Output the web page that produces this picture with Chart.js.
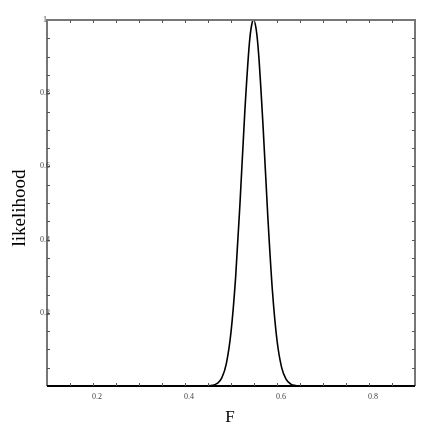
<!DOCTYPE html>
<html>
<head>
<meta charset="utf-8">
<script src="https://cdn.jsdelivr.net/npm/chart.js@4"></script>
<style>
  html, body { margin: 0; padding: 0; background: #fff; }
  #wrap { width: 436px; height: 436px; }
</style>
</head>
<body>
<div id="wrap"><canvas id="chart" width="436" height="436"></canvas></div>
<script>
// valores
const fValues = [0.10, 0.20, 0.30, 0.40, 0.44, 0.46, 0.47, 0.48, 0.49, 0.50, 0.51, 0.52, 0.53, 0.54, 0.545, 0.549,
                 0.555, 0.56, 0.57, 0.58, 0.59, 0.60, 0.61, 0.62, 0.63, 0.64, 0.65, 0.66, 0.70, 0.80, 0.90];
const likelihood = [0, 0, 0, 0, 0.0001, 0.002, 0.007, 0.022, 0.062, 0.147, 0.296, 0.510, 0.749, 0.937, 0.987, 1.0,
                    0.972, 0.908, 0.703, 0.464, 0.261, 0.125, 0.051, 0.018, 0.005, 0.0013, 0.0003, 0, 0, 0, 0];
const xTickLabels = [0.2, 0.4, 0.6, 0.8];
const yTickLabels = [0.2, 0.4, 0.6, 0.8, 1];

const points = fValues.map((f, i) => ({ x: f, y: likelihood[i] }));

// Ejes y marcas dibujados a mano (ticks hacia dentro)
const framePlugin = {
    id: 'frame',
    afterDraw(chart) {
        const ctx = chart.ctx;
        const a = chart.chartArea;
        const xs = chart.scales.x;
        const ys = chart.scales.y;
        ctx.save();

        // marco
        ctx.lineWidth = 2;
        ctx.strokeStyle = '#777';
        ctx.beginPath();
        ctx.moveTo(a.left, a.bottom);
        ctx.lineTo(a.left, a.top);
        ctx.lineTo(a.right, a.top);
        ctx.lineTo(a.right, a.bottom);
        ctx.stroke();
        ctx.strokeStyle = '#000';
        ctx.beginPath();
        ctx.moveTo(a.left, a.bottom);
        ctx.lineTo(a.right, a.bottom);
        ctx.stroke();

        // marcas menores cada 0.05
        ctx.lineWidth = 1;
        ctx.strokeStyle = '#555';
        for (let k = 3; k <= 17; k++) {
            const v = k * 0.05;
            const px = Math.round(xs.getPixelForValue(v)) + 0.5;
            ctx.beginPath();
            ctx.moveTo(px, a.bottom); ctx.lineTo(px, a.bottom - 3);
            ctx.moveTo(px, a.top); ctx.lineTo(px, a.top + 3);
            ctx.stroke();
        }
        for (let k = 1; k <= 19; k++) {
            const v = k * 0.05;
            const py = Math.round(ys.getPixelForValue(v)) + 0.5;
            ctx.beginPath();
            ctx.moveTo(a.left, py); ctx.lineTo(a.left + 3, py);
            ctx.moveTo(a.right, py); ctx.lineTo(a.right - 3, py);
            ctx.stroke();
        }

        // etiquetas
        ctx.fillStyle = '#444';
        ctx.font = '8px "Liberation Serif", serif';
        ctx.textAlign = 'center';
        ctx.textBaseline = 'middle';
        xTickLabels.forEach(v => {
            ctx.fillText(String(v), xs.getPixelForValue(v) + 4, a.bottom + 11);
        });
        yTickLabels.forEach(v => {
            ctx.fillText(String(v), a.left - 2, ys.getPixelForValue(v));
        });

        // títulos
        ctx.fillStyle = '#000';
        ctx.font = '17px "Liberation Serif", serif';
        ctx.fillText('F', 230, 418);
        ctx.save();
        ctx.translate(20, 208);
        ctx.rotate(-Math.PI / 2);
        ctx.font = '19px "Liberation Serif", serif';
        ctx.fillText('likelihood', 0, 0);
        ctx.restore();

        ctx.restore();
    }
};

const ctx = document.getElementById('chart').getContext('2d');
const chart = new Chart(ctx, {
    type: 'scatter',
    data: {
        datasets: [{
            data: points,
            showLine: true,
            borderColor: '#000',
            borderWidth: 1.6,
            pointRadius: 0,
            tension: 0.3,
            cubicInterpolationMode: 'monotone'
        }]
    },
    options: {
        responsive: false,
        animation: false,
        layout: { padding: { left: 47, right: 21, top: 20, bottom: 50 } },
        plugins: { legend: { display: false }, tooltip: { enabled: false } },
        scales: {
            x: {
                type: 'linear', min: 0.1, max: 0.9,
                grid: { display: false, drawTicks: false },
                border: { display: false },
                ticks: { display: false }
            },
            y: {
                type: 'linear', min: 0, max: 1,
                grid: { display: false, drawTicks: false },
                border: { display: false },
                ticks: { display: false }
            }
        }
    },
    plugins: [framePlugin]
});
</script>
</body>
</html>
